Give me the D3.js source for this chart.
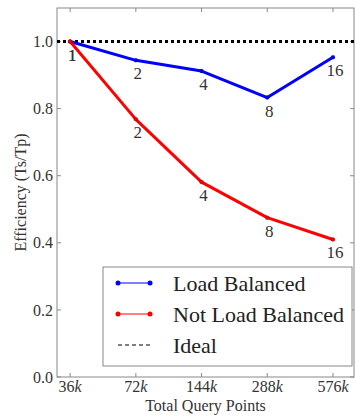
<!DOCTYPE html>
<html>
<head>
<meta charset="utf-8">
<script src="https://cdn.jsdelivr.net/npm/d3@7"></script>
<style>
  body { margin: 0; background: #fff; }
  svg text { font-family: 'Liberation Serif', 'DejaVu Serif', serif !important; }
</style>
</head>
<body>
<div id="chart"></div>
<script>
// data
const queryPoints = [36, 72, 144, 288, 576];      // thousands
const processors = [1, 2, 4, 8, 16];
const loadBalanced = [1.0, 0.944, 0.912, 0.833, 0.953];
const notLoadBalanced = [1.0, 0.768, 0.581, 0.475, 0.41];
const yTicks = [0.0, 0.2, 0.4, 0.6, 0.8, 1.0];
const legendLabels = ['Load Balanced', 'Not Load Balanced', 'Ideal'];

const width = 355, height = 418;
const margin = { top: 8, right: 1, bottom: 41, left: 57 };
const innerW = width - margin.left - margin.right;
const innerH = height - margin.top - margin.bottom;
const serif = "'Liberation Serif', serif";

const svg = d3.select('#chart').append('svg')
    .attr('width', width)
    .attr('height', height);

const g = svg.append('g').attr('transform', `translate(${margin.left},${margin.top})`);

const x = d3.scaleLog().base(2)
    .domain([36 * Math.pow(2, -0.2), 576 * Math.pow(2, 0.32)])
    .range([0, innerW]);
const y = d3.scaleLinear().domain([0, 1.1]).range([innerH, 0]);

const textColor = '#333';
const frameColor = '#888';

function label(sel, size) {
    return sel.style('font-family', serif, 'important')
        .attr('font-size', size)
        .attr('fill', textColor);
}

// ticks (inward, on all four sides)
const tickLen = 4;
queryPoints.forEach(v => {
    g.append('line').attr('x1', x(v)).attr('x2', x(v)).attr('y1', innerH).attr('y2', innerH - tickLen)
        .attr('stroke', frameColor);
    g.append('line').attr('x1', x(v)).attr('x2', x(v)).attr('y1', 0).attr('y2', tickLen)
        .attr('stroke', frameColor);
    const t = label(g.append('text'), 16)
        .attr('x', x(v)).attr('y', innerH + 15)
        .attr('text-anchor', 'middle');
    t.append('tspan').text(v);
    t.append('tspan').attr('font-style', 'italic').text('k');
});
yTicks.forEach(v => {
    g.append('line').attr('x1', 0).attr('x2', tickLen).attr('y1', y(v)).attr('y2', y(v))
        .attr('stroke', frameColor);
    g.append('line').attr('x1', innerW).attr('x2', innerW - tickLen).attr('y1', y(v)).attr('y2', y(v))
        .attr('stroke', frameColor);
    label(g.append('text'), 16)
        .attr('x', -4).attr('y', y(v))
        .attr('dy', '0.35em')
        .attr('text-anchor', 'end')
        .text(v.toFixed(1));
});

// frame
g.append('rect')
    .attr('width', innerW).attr('height', innerH)
    .attr('fill', 'none')
    .attr('stroke', frameColor)
    .attr('stroke-width', 1);

// ideal line
g.append('line')
    .attr('x1', 0).attr('x2', innerW)
    .attr('y1', y(1)).attr('y2', y(1))
    .attr('stroke', '#000')
    .attr('stroke-width', 3)
    .attr('stroke-dasharray', '3,3');

const line = d3.line().x((d, i) => x(queryPoints[i])).y(d => y(d));

const series = [
    { values: loadBalanced, color: '#0000ff' },
    { values: notLoadBalanced, color: '#ff0000' }
];

series.forEach(s => {
    g.append('path')
        .datum(s.values)
        .attr('d', line)
        .attr('fill', 'none')
        .attr('stroke', s.color)
        .attr('stroke-width', 3)
        .attr('stroke-linejoin', 'round');
    g.selectAll(null)
        .data(s.values)
        .enter()
        .append('circle')
        .attr('cx', (d, i) => x(queryPoints[i]))
        .attr('cy', d => y(d))
        .attr('r', 2)
        .attr('fill', s.color)
        .attr('stroke', '#000')
        .attr('stroke-opacity', 0.4)
        .attr('stroke-width', 0.5);
    label(g.selectAll(null)
        .data(s.values)
        .enter()
        .append('text'), 17)
        .attr('x', (d, i) => x(queryPoints[i]) + 2)
        .attr('y', d => y(d) + 19)
        .attr('text-anchor', 'middle')
        .text((d, i) => processors[i]);
});

// axis titles
label(svg.append('text'), 16)
    .attr('x', margin.left + innerW / 2)
    .attr('y', height - 7)
    .attr('text-anchor', 'middle')
    .text('Total Query Points');

label(svg.append('text'), 16)
    .attr('transform', `translate(26,${margin.top + innerH / 2}) rotate(-90)`)
    .attr('text-anchor', 'middle')
    .text('Efficiency (Ts/Tp)');

// legend
const legend = g.append('g').attr('transform', `translate(${103 - margin.left},${267 - margin.top})`);
legend.append('rect')
    .attr('width', innerW - (103 - margin.left) - 2)
    .attr('height', 99)
    .attr('fill', '#fff')
    .attr('stroke', frameColor);

const legendRows = [
    { label: legendLabels[0], color: '#0000ff', dashed: false },
    { label: legendLabels[1], color: '#ff0000', dashed: false },
    { label: legendLabels[2], color: '#000', dashed: true }
];
legendRows.forEach((r, i) => {
    const ry = 16 + i * 31;
    legend.append('line')
        .attr('x1', 15).attr('x2', 47)
        .attr('y1', ry).attr('y2', ry)
        .attr('stroke', r.color)
        .attr('stroke-width', 1)
        .attr('stroke-dasharray', r.dashed ? '4,3' : null);
    if (!r.dashed) {
        [15, 47].forEach(cx => {
            legend.append('circle')
                .attr('cx', cx).attr('cy', ry).attr('r', 2.5)
                .attr('fill', r.color);
        });
    }
    label(legend.append('text'), 22)
        .attr('x', 70).attr('y', ry)
        .attr('dy', '0.35em')
        .attr('fill', '#222')
        .text(r.label);
});
</script>
</body>
</html>
